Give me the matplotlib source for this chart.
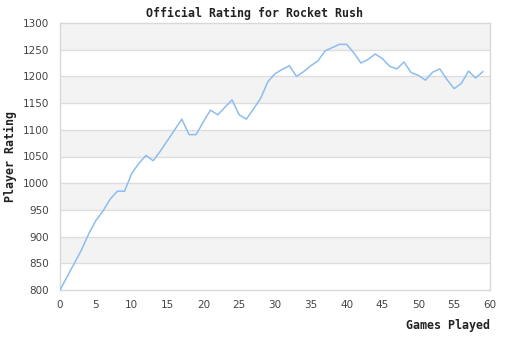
import matplotlib
matplotlib.use("Agg")
import matplotlib.pyplot as plt

games = list(range(60))
ratings = [800, 825, 850, 875, 905, 930, 948, 970, 985, 985,
           1018, 1037, 1052, 1042, 1060, 1080, 1100, 1120, 1091, 1091,
           1115, 1137, 1128, 1142, 1156, 1128, 1120, 1139, 1159, 1190,
           1205, 1213, 1220, 1200, 1209, 1220, 1229, 1248, 1254, 1260,
           1260, 1244, 1225, 1232, 1242, 1233, 1219, 1214, 1227, 1207,
           1202, 1193, 1208, 1214, 1194, 1177, 1187, 1210, 1197, 1209]
x_ticks = [0, 5, 10, 15, 20, 25, 30, 35, 40, 45, 50, 55, 60]
y_ticks = list(range(800, 1301, 50))

title = "Official Rating for Rocket Rush"
x_label = "Games Played"
y_label = "Player Rating"

fig = plt.figure(figsize=(5.1, 3.4), dpi=100)
ax = fig.add_axes([60 / 510, 1 - 290 / 340, 430 / 510, 267 / 340])

ax.set_xlim(0, 60)
ax.set_ylim(800, 1300)

# alternating horizontal bands between gridlines
for i, lo in enumerate(y_ticks[:-1]):
    if i % 2 == 1:
        ax.axhspan(lo, lo + 50, color="#f3f3f3", lw=0, zorder=0)
for y in y_ticks[1:-1]:
    ax.axhline(y, color="#dddddd", lw=1, zorder=1)

ax.plot(games, ratings, color="#8dbdf0", lw=1.1, zorder=3)

ax.set_xticks(x_ticks)
ax.set_yticks(y_ticks)
ax.tick_params(length=0, labelsize=7.5, labelcolor="#444444")
ax.tick_params(axis="x", pad=7)
ax.tick_params(axis="y", pad=8)
for s in ax.spines.values():
    s.set_color("#d8d8d8")
    s.set_linewidth(1)

mono = {"family": "DejaVu Sans Mono", "weight": "bold", "size": 8.4, "color": "#222222"}
fig.text(255 / 510, 1 - 13 / 340, title, ha="center", va="center", **mono)
fig.text(490 / 510, 1 - 326 / 340, x_label, ha="right", va="center", **mono)
fig.text(10 / 510, 1 - 157 / 340, y_label, ha="center", va="center", rotation=90, **mono)

fig.savefig("out.png", dpi=100)
